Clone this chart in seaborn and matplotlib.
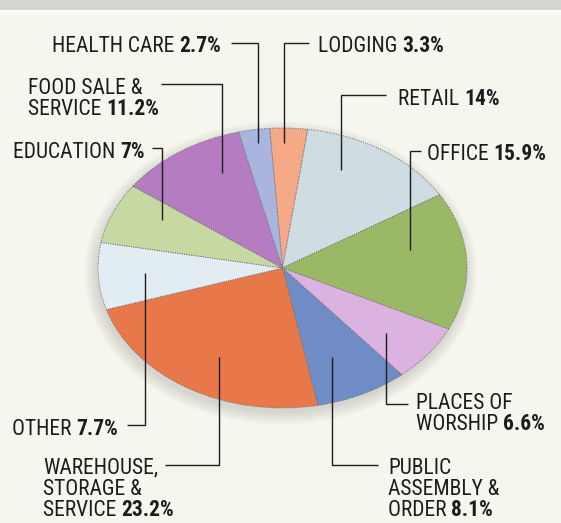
import os
import matplotlib
matplotlib.use("Agg")
import numpy as np
import matplotlib.pyplot as plt
import seaborn as sns
from matplotlib import font_manager as fm
from matplotlib.patches import Ellipse, Rectangle
from matplotlib.textpath import TextPath

# Building-type shares, listed clockwise from the top of the pie
categories = ["LODGING", "RETAIL", "OFFICE", "PLACES OF\nWORSHIP",
              "PUBLIC\nASSEMBLY &\nORDER", "WAREHOUSE,\nSTORAGE &\nSERVICE",
              "OTHER", "EDUCATION", "FOOD SALE &\nSERVICE", "HEALTH CARE"]
shares = [3.3, 14, 15.9, 6.6, 8.1, 23.2, 7.7, 7, 11.2, 2.7]
share_labels = ["3.3%", "14%", "15.9%", "6.6%", "8.1%", "23.2%",
                "7.7%", "7%", "11.2%", "2.7%"]
colors = ["#f6a986", "#cfdde3", "#9bb866", "#dcb2e0", "#6f8cc7",
          "#e8784a", "#e1edf3", "#c6d9a2", "#b57cc2", "#a9b5df"]

W, H = 561, 523
BG = "#f6f6ef"

sns.set_theme(style="white")
plt.rcParams["font.family"] = ["Liberation Sans", "DejaVu Sans"]


def narrow_face(bold):
    """Pick a condensed sans face if one is installed, else a regular one."""
    prefs = ["liberation sans narrow", "roboto condensed", "noto sans",
             "open sans", "dejavu sans", "lato", "inter"]
    found = []
    for f in fm.fontManager.ttflist:
        key = (f.name + " " + os.path.basename(f.fname)).lower()
        if "italic" in key or "oblique" in key:
            continue
        if any(s in key for s in ("semicondensed", "semi condensed", "extracondensed",
                                  "extra condensed", "ultracondensed", "ultra condensed")):
            continue
        if not ("narrow" in key or "condensed" in key or f.stretch == "condensed"):
            continue
        w = f.weight if isinstance(f.weight, int) else (700 if "bold" in str(f.weight) else 400)
        if bold != (w >= 600):
            continue
        if bold and any(s in key for s in ("black", "extrabold", "semibold")):
            continue
        if (not bold) and any(s in key for s in ("light", "thin", "medium")):
            continue
        rank = next((i for i, p in enumerate(prefs) if key.startswith(p)), len(prefs))
        found.append((rank, f.fname))
    if found:
        found.sort()
        return fm.FontProperties(fname=found[0][1])
    return fm.FontProperties(family="Roboto", weight="bold" if bold else "normal")


REG = narrow_face(False)
BOLD = narrow_face(True)

fig = plt.figure(figsize=(W / 100, H / 100), dpi=100)
fig.patch.set_facecolor(BG)

# pie axes: stretched box so the pie reads as a tilted disc
px_l, px_r, px_t, px_b = 98, 467, 128, 408
ax = fig.add_axes([px_l / W, 1 - px_b / H, (px_r - px_l) / W, (px_b - px_t) / H])
ax.set_facecolor("none")

# soft drop shadow under the disc
for k in range(10):
    grow = 0.007 * k
    ax.add_patch(Ellipse((-0.01, -0.035), 2 + 2 * grow, 2 + 2 * grow * 1.3,
                         facecolor="#707066", edgecolor="none", alpha=0.025,
                         zorder=0, clip_on=False))

wedges, _ = ax.pie(shares, colors=colors, startangle=94, counterclock=False,
                   radius=1.0,
                   wedgeprops=dict(edgecolor="#6d6d6d", linewidth=0.7,
                                   linestyle=(0, (1, 1.4))))
for w in wedges:
    w.set_zorder(2)
ax.set_aspect("auto")
ax.set_xlim(-1, 1)
ax.set_ylim(-1, 1)
ax.axis("off")

# overlay in pixel coordinates for labels and leader lines
ov = fig.add_axes([0, 0, 1, 1], zorder=5)
ov.set_xlim(0, W)
ov.set_ylim(H, 0)
ov.axis("off")
ov.set_facecolor("none")

# grey band along the top edge
ov.add_patch(Rectangle((0, 0), W, 10, facecolor="#d6d6d0", edgecolor="none"))
ov.add_patch(Rectangle((0, 10), W, 3, facecolor="#ffffff", edgecolor="none"))

# leader anchors inside each slice: (angle in degrees, radius fraction)
anchors = [(89.5, 0.893), (65.6, 0.768), (10.6, 0.703), (-39.6, 0.728),
           (-67.1, 0.69), (-118.4, 0.723), (182.8, 0.746), (152.3, 0.738),
           (115.8, 0.754), (98.5, 0.903)]
# label layout: text x, first-line centre y, alignment, elbow y, elbow end x
layout = [(318, 44, "left", 43, 309),
          (398, 97, "left", 95, 386),
          (427, 152, "left", 151, 421),
          (416, 401, "left", 404, 408),
          (388, 466, "left", 465, 378),
          (43, 466, "left", 465, 165),
          (118, 427, "right", 425, 127),
          (145, 150, "right", 148, 152),
          (28, 86, "left", 84, 161),
          (221, 44, "right", 43, 231)]

LINE = 21.0
TXT = "#1c1c1c"
renderer = fig.canvas.get_renderer()
to_ov = ov.transData.inverted()

# type size: mostly fit "HEALTH CARE 2.7%" to 179 px, nudged toward a 13.5 px cap height
cap_per_pt = TextPath((0, 0), "H", size=100, prop=REG).get_extents().height / 100 * (100 / 72)
fs_cap = 13.5 / cap_per_pt
probe_r = fig.text(0, 0, "HEALTH CARE ", fontproperties=REG, fontsize=14)
probe_b = fig.text(0, 0, "2.7%", fontproperties=BOLD, fontsize=14)
wid = probe_r.get_window_extent(renderer).width + probe_b.get_window_extent(renderer).width
probe_r.remove()
probe_b.remove()
fs_w = 14 * 179 / wid
FS = float(np.clip(0.3 * fs_cap + 0.7 * fs_w, 10.5, 17))
CAP_HALF = cap_per_pt * FS / 2


def txt(x, y, s, ha, bold=False):
    return ov.text(x, y, s, fontproperties=BOLD if bold else REG, fontsize=FS,
                   color=TXT, ha=ha, va="baseline")


for name, pct, (ang, r), (tx, ty, ha, ly, lx) in zip(categories, share_labels, anchors, layout):
    a = np.deg2rad(ang)
    disp = ax.transData.transform((r * np.cos(a), r * np.sin(a)))
    axx, ayy = to_ov.transform(disp)
    ov.plot([axx, axx, lx], [ayy, ly, ly], color="#1e1e1e", lw=1.0,
            solid_joinstyle="miter", solid_capstyle="butt")

    lines = name.split("\n")
    for i, ln in enumerate(lines):
        base = ty + i * LINE + CAP_HALF
        if i < len(lines) - 1:
            txt(tx, base, ln, ha)
            continue
        if ha == "left":
            t1 = txt(tx, base, ln + " ", "left")
            bb = t1.get_window_extent(renderer)
            x2 = to_ov.transform((bb.x1, bb.y0))[0]
            txt(x2, base, pct, "left", bold=True)
        else:
            t2 = txt(tx, base, pct, "right", bold=True)
            bb = t2.get_window_extent(renderer)
            x1 = to_ov.transform((bb.x0, bb.y0))[0]
            txt(x1, base, ln + " ", "right")

fig.savefig("out.png", dpi=100, facecolor=BG)
